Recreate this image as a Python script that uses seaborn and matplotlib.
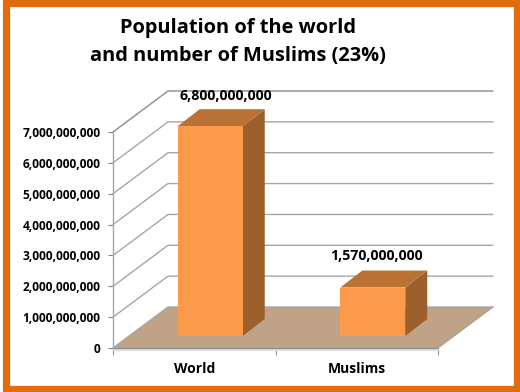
import numpy as np
import pandas as pd
import matplotlib
matplotlib.use("Agg")
import matplotlib.pyplot as plt
import seaborn as sns
from matplotlib.patches import Polygon, Rectangle
from matplotlib.transforms import Affine2D, IdentityTransform

# chart values
groups = ["World", "Muslims"]
population = [6800000000, 1570000000]
y_ticks = [0, 1000000000, 2000000000, 3000000000, 4000000000, 5000000000, 6000000000, 7000000000]
title = "Population of the world\nand number of Muslims (23%)"

FRONT = "#FC9A4B"
SIDE = "#9D602D"
TOP = "#BA7234"
FLOOR = "#BFA288"
GRID = "#A6A6A6"
BORDER = "#E36C0A"
FONT = "Open Sans"

sns.set_theme(style="white")
plt.rcParams["font.family"] = [FONT, "DejaVu Sans"]

W, H = 520, 392
fig = plt.figure(figsize=(W / 100, H / 100), dpi=100, facecolor="white")
ax = fig.add_axes([113 / W, (H - 348) / H, 325 / W, 216 / H])
ax.patch.set_alpha(0)

df = pd.DataFrame({"group": groups, "population": population})
sns.barplot(data=df, x="group", y="population", width=0.4, color=FRONT,
            saturation=1, ax=ax, zorder=5, linewidth=0)
ax.set_xlim(-0.5, 1.5)
ax.set_ylim(0, 7000000000)
ax.set_xlabel("")
ax.set_ylabel("")


def shifted(dx, dy):
    return ax.transData + Affine2D().translate(dx, dy)


# depth of the walls and of the bars, in pixels
wall = (55, 41)
gap = (16, 12)
depth = (22, 17)

# floor
x0, x1 = ax.get_xlim()
floor = [(x0, 0), (x1, 0)]
px = ax.transData.transform(floor)
ax.add_patch(Polygon([px[0], px[1], px[1] + wall, px[0] + wall], closed=True,
                     transform=IdentityTransform(), facecolor=FLOOR,
                     edgecolor="none", clip_on=False, zorder=1))
ax.plot([x0, x1], [0, 0], transform=shifted(0, -1.5), color="#DCDCDC", lw=1.6,
        clip_on=False, zorder=1)
ax.plot([x0, x1], [0, 0], color="#8C8C8C", lw=0.8, clip_on=False, zorder=2)

# back wall grid lines
for v in y_ticks:
    p = ax.transData.transform([(x0, v), (x1, v)])
    pts = np.array([p[0], p[0] + wall, p[1] + wall])
    col = "#8C8C8C" if v == y_ticks[-1] else GRID
    ax.plot(pts[:, 0], pts[:, 1], transform=IdentityTransform(), color=col,
            lw=1.0, clip_on=False, zorder=2)
p = ax.transData.transform([(x1, 0)])[0]
ax.plot([p[0], p[0] + wall[0]], [p[1], p[1] + wall[1]],
        transform=IdentityTransform(), color="#A0A0A0", lw=0.8, clip_on=False, zorder=2)

# 3d faces of the bars
for bar in ax.patches:
    if not isinstance(bar, Rectangle) or bar.get_height() == 0:
        continue
    bar.set_transform(shifted(*gap))
    bar.set_clip_on(False)
    bx, bw, bh = bar.get_x(), bar.get_width(), bar.get_height()
    c = shifted(*gap).transform([(bx, 0), (bx + bw, 0), (bx + bw, bh), (bx, bh)])
    ax.add_patch(Polygon([c[1], c[2], c[2] + depth, c[1] + depth], closed=True,
                         transform=IdentityTransform(), facecolor=SIDE,
                         edgecolor="none", clip_on=False, zorder=4))
    ax.add_patch(Polygon([c[3], c[2], c[2] + depth, c[3] + depth], closed=True,
                         transform=IdentityTransform(), facecolor=TOP,
                         edgecolor="none", clip_on=False, zorder=4))

# value labels
label_shift = [(32, 42), (20, 44)]
for i, v in enumerate(population):
    ax.text(i, v, f"{v:,}", transform=shifted(*label_shift[i]), ha="center",
            va="center", fontsize=10.2, fontweight="bold", color="black", zorder=6)

# axes
for s in ["top", "right", "bottom"]:
    ax.spines[s].set_visible(False)
ax.spines["left"].set_color(GRID)
ax.spines["left"].set_linewidth(1.0)
ax.set_yticks(y_ticks, [f"{v:,}" for v in y_ticks])
ax.set_xticks(range(len(groups)), groups)
ax.set_xticks([-0.5, 0.5, 1.5], minor=True)
ax.tick_params(axis="y", left=True, length=3.5, width=0.8, color="#808080", pad=5.5,
               labelsize=8.6, labelcolor="black")
ax.tick_params(axis="x", which="major", length=0, pad=10, labelsize=10, labelcolor="black")
ax.tick_params(axis="x", which="minor", bottom=True, length=5, width=0.8, color="#909090")
for t in ax.get_yticklabels() + ax.get_xticklabels():
    t.set_fontweight("bold")

fig.text(238 / W, 1 - 42 / H, title, ha="center", va="center", fontsize=14.4,
         fontweight="bold", color="black", linespacing=1.5)

# orange frame
fig.add_artist(Rectangle((6, H - 388.5), 510.5, 385.5, transform=IdentityTransform(),
                         fill=False, edgecolor=BORDER, linewidth=5.2, joinstyle="miter"))

fig.savefig("out.png", dpi=100)
